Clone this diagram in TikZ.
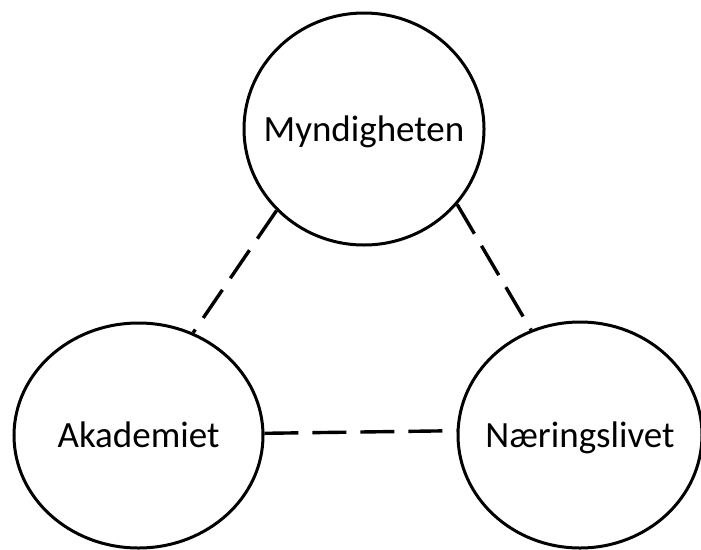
\documentclass[tikz,border=0pt]{standalone}
\usepackage{fontspec}
\setmainfont{Carlito}
\usepackage{tikz}
\usetikzlibrary{shapes.geometric}

\begin{document}
\begin{tikzpicture}[
  x=1pt, y=-1pt, font=\fontsize{37}{44}\selectfont,
  org/.style={draw, ellipse, line width=3pt, inner sep=0pt},
  orgtxt/.style={inner sep=0pt, text height=24pt, text depth=0pt},
  link/.style={line width=3.4pt, dash pattern=on 34pt off 14pt},
]
  \useasboundingbox (0,0) rectangle (701,549);
  \node[org, minimum width=240pt, minimum height=232pt,
    label={[orgtxt]center:Myndigheten}] (myn) at (364,129) {};
  \node[org, minimum width=249pt, minimum height=225pt,
    label={[orgtxt]center:Akademiet}] (aka) at (138.5,435.5) {};
  \node[org, minimum width=244pt, minimum height=226pt,
    label={[orgtxt]center:Næringslivet}] (nae) at (580,435) {};
  \draw[link] (myn.223) -- (aka.62);
  \draw[link] (myn.321) -- (nae.115);
  \draw[link] (aka.1.5) -- (nae.178.5);
\end{tikzpicture}
\end{document}
